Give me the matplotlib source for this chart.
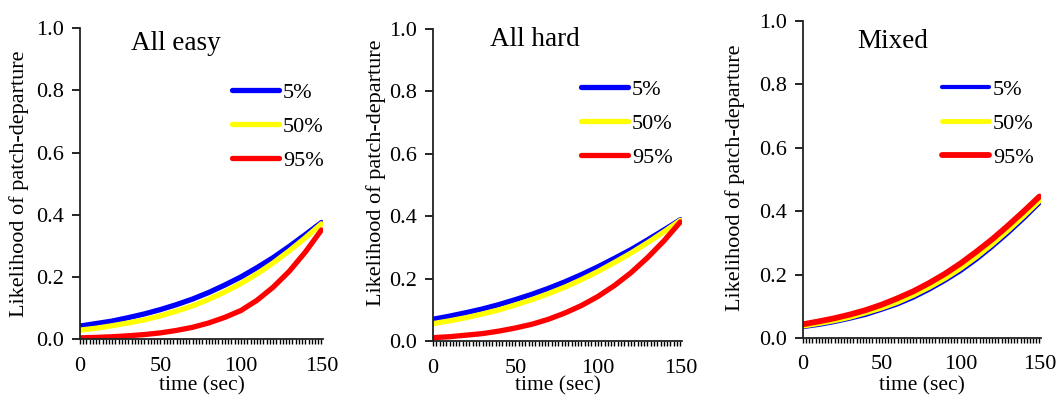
import matplotlib
matplotlib.use("Agg")
import matplotlib.pyplot as plt
from matplotlib.ticker import MultipleLocator

plt.rcParams['font.family'] = ['Liberation Serif', 'DejaVu Serif']

time_sec = [0, 10, 20, 30, 40, 50, 60, 70, 80, 90, 100, 110, 120, 130, 140, 150]
labels = ['5%', '50%', '95%']
colors = ['#0000ff', '#ffff00', '#ff0000']
panel_titles = ['All easy', 'All hard', 'Mixed']

easy_5 = [0.042, 0.050, 0.058, 0.069, 0.081, 0.095, 0.111, 0.129, 0.150, 0.174,
          0.200, 0.230, 0.262, 0.298, 0.336, 0.375]
easy_50 = [0.029, 0.035, 0.043, 0.052, 0.062, 0.075, 0.090, 0.107, 0.128, 0.152,
           0.179, 0.210, 0.245, 0.284, 0.326, 0.371]
easy_95 = [0.004, 0.0055, 0.0076, 0.0106, 0.0146, 0.020, 0.028, 0.038, 0.052, 0.070,
           0.092, 0.125, 0.167, 0.218, 0.280, 0.351]

hard_5 = [0.070, 0.080, 0.091, 0.103, 0.117, 0.133, 0.150, 0.169, 0.190, 0.213,
          0.238, 0.265, 0.293, 0.324, 0.356, 0.389]
hard_50 = [0.056, 0.065, 0.075, 0.087, 0.100, 0.116, 0.133, 0.152, 0.173, 0.197,
           0.223, 0.252, 0.282, 0.315, 0.350, 0.387]
hard_95 = [0.011, 0.014, 0.019, 0.024, 0.032, 0.042, 0.054, 0.070, 0.090, 0.114,
           0.143, 0.178, 0.219, 0.267, 0.321, 0.382]

mixed_5 = [0.034, 0.041, 0.050, 0.061, 0.073, 0.089, 0.106, 0.127, 0.152, 0.180,
           0.211, 0.247, 0.287, 0.330, 0.376, 0.425]
mixed_50 = [0.037, 0.045, 0.054, 0.065, 0.079, 0.094, 0.112, 0.134, 0.159, 0.187,
            0.219, 0.255, 0.295, 0.338, 0.384, 0.432]
mixed_95 = [0.043, 0.052, 0.062, 0.074, 0.088, 0.105, 0.125, 0.147, 0.173, 0.202,
            0.235, 0.272, 0.311, 0.354, 0.399, 0.446]

panels = [
    [easy_5, easy_50, easy_95],
    [hard_5, hard_50, hard_95],
    [mixed_5, mixed_50, mixed_95],
]

# layout, in figure fractions
axes_rects = [
    [0.0752, 0.148, 0.2284, 0.781],
    [0.407, 0.143, 0.234, 0.784],
    [0.7547, 0.151, 0.2237, 0.7965],
]
widths = [[3.8, 3.8, 3.8], [3.8, 3.8, 3.8], [3.0, 3.5, 4.2]]
title_pos = [(0.21, 0.952), (0.23, 0.965), (0.23, 0.934)]
legend_pos = [(0.625, 0.826), (0.594, 0.838), (0.584, 0.815)]
ylabel_pos = [(-0.21, 0.50), (-0.19, 0.54), (-0.242, 0.505)]
xlabel_pos = [(0.5, -0.121), (0.5, -0.114), (0.5, -0.122)]

fig = plt.figure(figsize=(10.64, 3.98), dpi=100)

for i, series in enumerate(panels):
    ax = fig.add_axes(axes_rects[i])
    for vals, lab, col, lw in zip(series, labels, colors, widths[i]):
        ax.plot(time_sec, vals, color=col, lw=lw, label=lab, solid_capstyle='round')

    ax.set_xlim(0, 151)
    ax.set_ylim(0, 1.0)
    ax.spines['top'].set_visible(False)
    ax.spines['right'].set_visible(False)
    for s in ['left', 'bottom']:
        ax.spines[s].set_linewidth(1.3)
        ax.spines[s].set_color('#222222')

    ax.xaxis.set_major_locator(MultipleLocator(50))
    ax.xaxis.set_minor_locator(MultipleLocator(2))
    ax.yaxis.set_major_locator(MultipleLocator(0.2))
    ax.yaxis.set_major_formatter(plt.FormatStrFormatter('%.1f'))
    ax.tick_params(axis='x', which='both', direction='out', length=3.6, width=1.0,
                   labelsize=16, pad=9)
    ax.tick_params(axis='y', direction='out', length=5.5, width=1.2, labelsize=16, pad=6)

    ax.text(title_pos[i][0], title_pos[i][1], panel_titles[i], transform=ax.transAxes,
            fontsize=19.5, ha='left', va='center')

    ax.set_ylabel('Likelihood of patch-departure', fontsize=16)
    ax.yaxis.set_label_coords(*ylabel_pos[i])
    ax.set_xlabel('time (sec)', fontsize=15.5)
    ax.xaxis.set_label_coords(*xlabel_pos[i])

    ax.legend(loc='upper left', bbox_to_anchor=legend_pos[i], frameon=False,
              fontsize=16, handlelength=2.1, handletextpad=0.2, labelspacing=0.6,
              borderpad=0, borderaxespad=0)

fig.savefig('out.png', dpi=100)
